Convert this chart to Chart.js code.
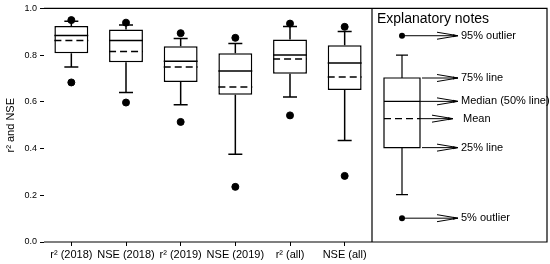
<!DOCTYPE html>
<html lang="en">
<head>
  <meta charset="UTF-8" />
  <title>r2 and NSE box plot</title>
  <script src="https://cdn.jsdelivr.net/npm/chart.js"></script>
  <style>
    body { margin: 0; background: #fff; }
    .wrap { width: 550px; height: 264px; }
  </style>
</head>
<body>
  <div class="wrap"><canvas id="boxChart" width="550" height="264"></canvas></div>

  <script>
    // data
    const categories = ['r² (2018)', 'NSE (2018)', 'r² (2019)', 'NSE (2019)', 'r² (all)', 'NSE (all)'];
    const q1 = [0.808, 0.770, 0.685, 0.630, 0.720, 0.651];
    const q3 = [0.925, 0.910, 0.838, 0.808, 0.867, 0.842];
    const median = [0.884, 0.863, 0.774, 0.732, 0.800, 0.766];
    const mean = [0.863, 0.816, 0.749, 0.664, 0.783, 0.706];
    const whiskerLow = [0.749, 0.640, 0.588, 0.376, 0.621, 0.435];
    const whiskerHigh = [0.945, 0.929, 0.871, 0.850, 0.922, 0.901];
    const outlierLow = [0.683, 0.597, 0.514, 0.236, 0.542, 0.283];
    const outlierHigh = [0.950, 0.939, 0.894, 0.874, 0.935, 0.921];
    const yTicks = [0, 0.2, 0.4, 0.6, 0.8, 1.0];

    // example box in the explanatory panel (same y scale)
    const noteLabels = ['95% outlier', '75% line', 'Median (50% line)', 'Mean', '25% line', '5% outlier'];
    const noteValues = { outHigh: 0.883, whiskHigh: 0.80, q3: 0.702, median: 0.602, mean: 0.528, q1: 0.404, whiskLow: 0.203, outLow: 0.102 };

    const boxExtras = {
      id: 'boxExtras',
      afterDatasetsDraw(chart) {
        const { ctx, chartArea: area, scales: { x, y } } = chart;
        const meta = chart.getDatasetMeta(0);
        ctx.save();
        ctx.strokeStyle = '#000';
        ctx.lineWidth = 1.5;

        // whiskers, caps, median and mean of each box
        categories.forEach((c, i) => {
          const bar = meta.data[i];
          const cx = x.getPixelForValue(i);
          const half = bar.width / 2;
          const cap = 7;
          ctx.setLineDash([]);
          ctx.beginPath();
          ctx.moveTo(cx, y.getPixelForValue(q3[i]));
          ctx.lineTo(cx, y.getPixelForValue(whiskerHigh[i]));
          ctx.moveTo(cx - cap, y.getPixelForValue(whiskerHigh[i]));
          ctx.lineTo(cx + cap, y.getPixelForValue(whiskerHigh[i]));
          ctx.moveTo(cx, y.getPixelForValue(q1[i]));
          ctx.lineTo(cx, y.getPixelForValue(whiskerLow[i]));
          ctx.moveTo(cx - cap, y.getPixelForValue(whiskerLow[i]));
          ctx.lineTo(cx + cap, y.getPixelForValue(whiskerLow[i]));
          ctx.moveTo(cx - half, y.getPixelForValue(median[i]));
          ctx.lineTo(cx + half, y.getPixelForValue(median[i]));
          ctx.stroke();
          ctx.setLineDash([7, 4]);
          ctx.beginPath();
          ctx.moveTo(cx - half, y.getPixelForValue(mean[i]));
          ctx.lineTo(cx + half, y.getPixelForValue(mean[i]));
          ctx.stroke();
        });
        ctx.setLineDash([]);

        // frame: plot box + notes panel
        const panelRight = chart.width - 3;
        ctx.lineWidth = 1.2;
        ctx.beginPath();
        ctx.moveTo(area.left, area.top);
        ctx.lineTo(panelRight, area.top);
        ctx.lineTo(panelRight, area.bottom);
        ctx.lineTo(area.left, area.bottom);
        ctx.moveTo(area.right, area.top);
        ctx.lineTo(area.right, area.bottom);
        ctx.stroke();

        // explanatory notes panel
        ctx.fillStyle = '#000';
        ctx.font = '14px "Liberation Sans", Arial, sans-serif';
        ctx.textBaseline = 'middle';
        ctx.textAlign = 'left';
        ctx.fillText('Explanatory notes', area.right + 5, area.top + 11);

        const bx = area.right + 30;
        const bw = 36;
        const py = v => y.getPixelForValue(v);
        ctx.lineWidth = 1.2;
        ctx.beginPath();
        ctx.rect(bx - bw / 2, py(noteValues.q3), bw, py(noteValues.q1) - py(noteValues.q3));
        ctx.moveTo(bx, py(noteValues.q3));
        ctx.lineTo(bx, py(noteValues.whiskHigh));
        ctx.moveTo(bx - 6, py(noteValues.whiskHigh));
        ctx.lineTo(bx + 6, py(noteValues.whiskHigh));
        ctx.moveTo(bx, py(noteValues.q1));
        ctx.lineTo(bx, py(noteValues.whiskLow));
        ctx.moveTo(bx - 6, py(noteValues.whiskLow));
        ctx.lineTo(bx + 6, py(noteValues.whiskLow));
        ctx.moveTo(bx - bw / 2, py(noteValues.median));
        ctx.lineTo(bx + bw / 2, py(noteValues.median));
        ctx.stroke();
        ctx.setLineDash([7, 4]);
        ctx.beginPath();
        ctx.moveTo(bx - bw / 2, py(noteValues.mean));
        ctx.lineTo(bx + bw / 2, py(noteValues.mean));
        ctx.stroke();
        ctx.setLineDash([]);

        [noteValues.outHigh, noteValues.outLow].forEach(v => {
          ctx.beginPath();
          ctx.arc(bx, py(v), 3, 0, Math.PI * 2);
          ctx.fill();
        });

        const tipX = area.right + 86;
        const arrows = [
          [noteValues.outHigh, bx],
          [noteValues.q3, bx + bw / 2 + 2],
          [noteValues.median, bx + bw / 2],
          [noteValues.mean, bx + bw / 2],
          [noteValues.q1, bx + bw / 2 + 2],
          [noteValues.outLow, bx]
        ];
        ctx.lineWidth = 1;
        ctx.font = '11px "Liberation Sans", Arial, sans-serif';
        arrows.forEach(([v, x0], k) => {
          const yy = py(v);
          const tip = k === 3 ? tipX - 5 : tipX;
          ctx.beginPath();
          ctx.moveTo(x0, yy);
          ctx.lineTo(tip, yy);
          ctx.moveTo(tip - 21, yy - 3.5);
          ctx.lineTo(tip, yy);
          ctx.lineTo(tip - 21, yy + 3.5);
          ctx.stroke();
          ctx.beginPath();
          ctx.moveTo(tip, yy);
          ctx.lineTo(tip - 5, yy - 1.5);
          ctx.lineTo(tip - 5, yy + 1.5);
          ctx.closePath();
          ctx.fill();
          ctx.fillText(noteLabels[k], tipX + 3 + (k === 3 ? 2 : 0), yy);
        });
        ctx.restore();
      }
    };

    const ctx = document.getElementById('boxChart').getContext('2d');
    const boxChart = new Chart(ctx, {
      data: {
        labels: categories,
        datasets: [
          {
            type: 'bar',
            data: q1.map((v, i) => [v, q3[i]]),
            backgroundColor: '#fff',
            borderColor: '#000',
            borderWidth: 1.5,
            borderSkipped: false,
            categoryPercentage: 1,
            barPercentage: 0.62,
            order: 2
          },
          {
            type: 'line',
            data: outlierHigh,
            showLine: false,
            pointRadius: 3.5,
            pointBackgroundColor: '#000',
            pointBorderColor: '#000',
            order: 1
          },
          {
            type: 'line',
            data: outlierLow,
            showLine: false,
            pointRadius: 3.5,
            pointBackgroundColor: '#000',
            pointBorderColor: '#000',
            order: 1
          }
        ]
      },
      options: {
        responsive: false,
        animation: false,
        layout: { padding: { top: 6, right: 178, left: 0, bottom: 0 } },
        plugins: { legend: { display: false }, tooltip: { enabled: false } },
        scales: {
          x: {
            offset: true,
            grid: { offset: false, drawOnChartArea: false, tickLength: 4, color: '#000' },
            border: { display: false },
            ticks: {
              color: '#000',
              padding: 2,
              maxRotation: 0,
              autoSkip: false,
              font: { family: '"Liberation Sans", Arial, sans-serif', size: 11 }
            },
            afterFit(scale) { scale.height = 22; }
          },
          y: {
            min: 0,
            max: 1,
            afterBuildTicks(scale) { scale.ticks = yTicks.map(v => ({ value: v })); },
            grid: { drawOnChartArea: false, tickLength: 4, color: '#000' },
            border: { display: false },
            ticks: {
              color: '#000',
              padding: 3,
              callback: v => v.toFixed(1),
              font: { family: '"Liberation Sans", Arial, sans-serif', size: 9 }
            },
            title: {
              display: true,
              text: 'r² and NSE',
              color: '#000',
              padding: 4,
              font: { family: '"Liberation Sans", Arial, sans-serif', size: 11 }
            },
            afterFit(scale) { scale.width = 44; }
          }
        }
      },
      plugins: [boxExtras]
    });
  </script>
</body>
</html>
